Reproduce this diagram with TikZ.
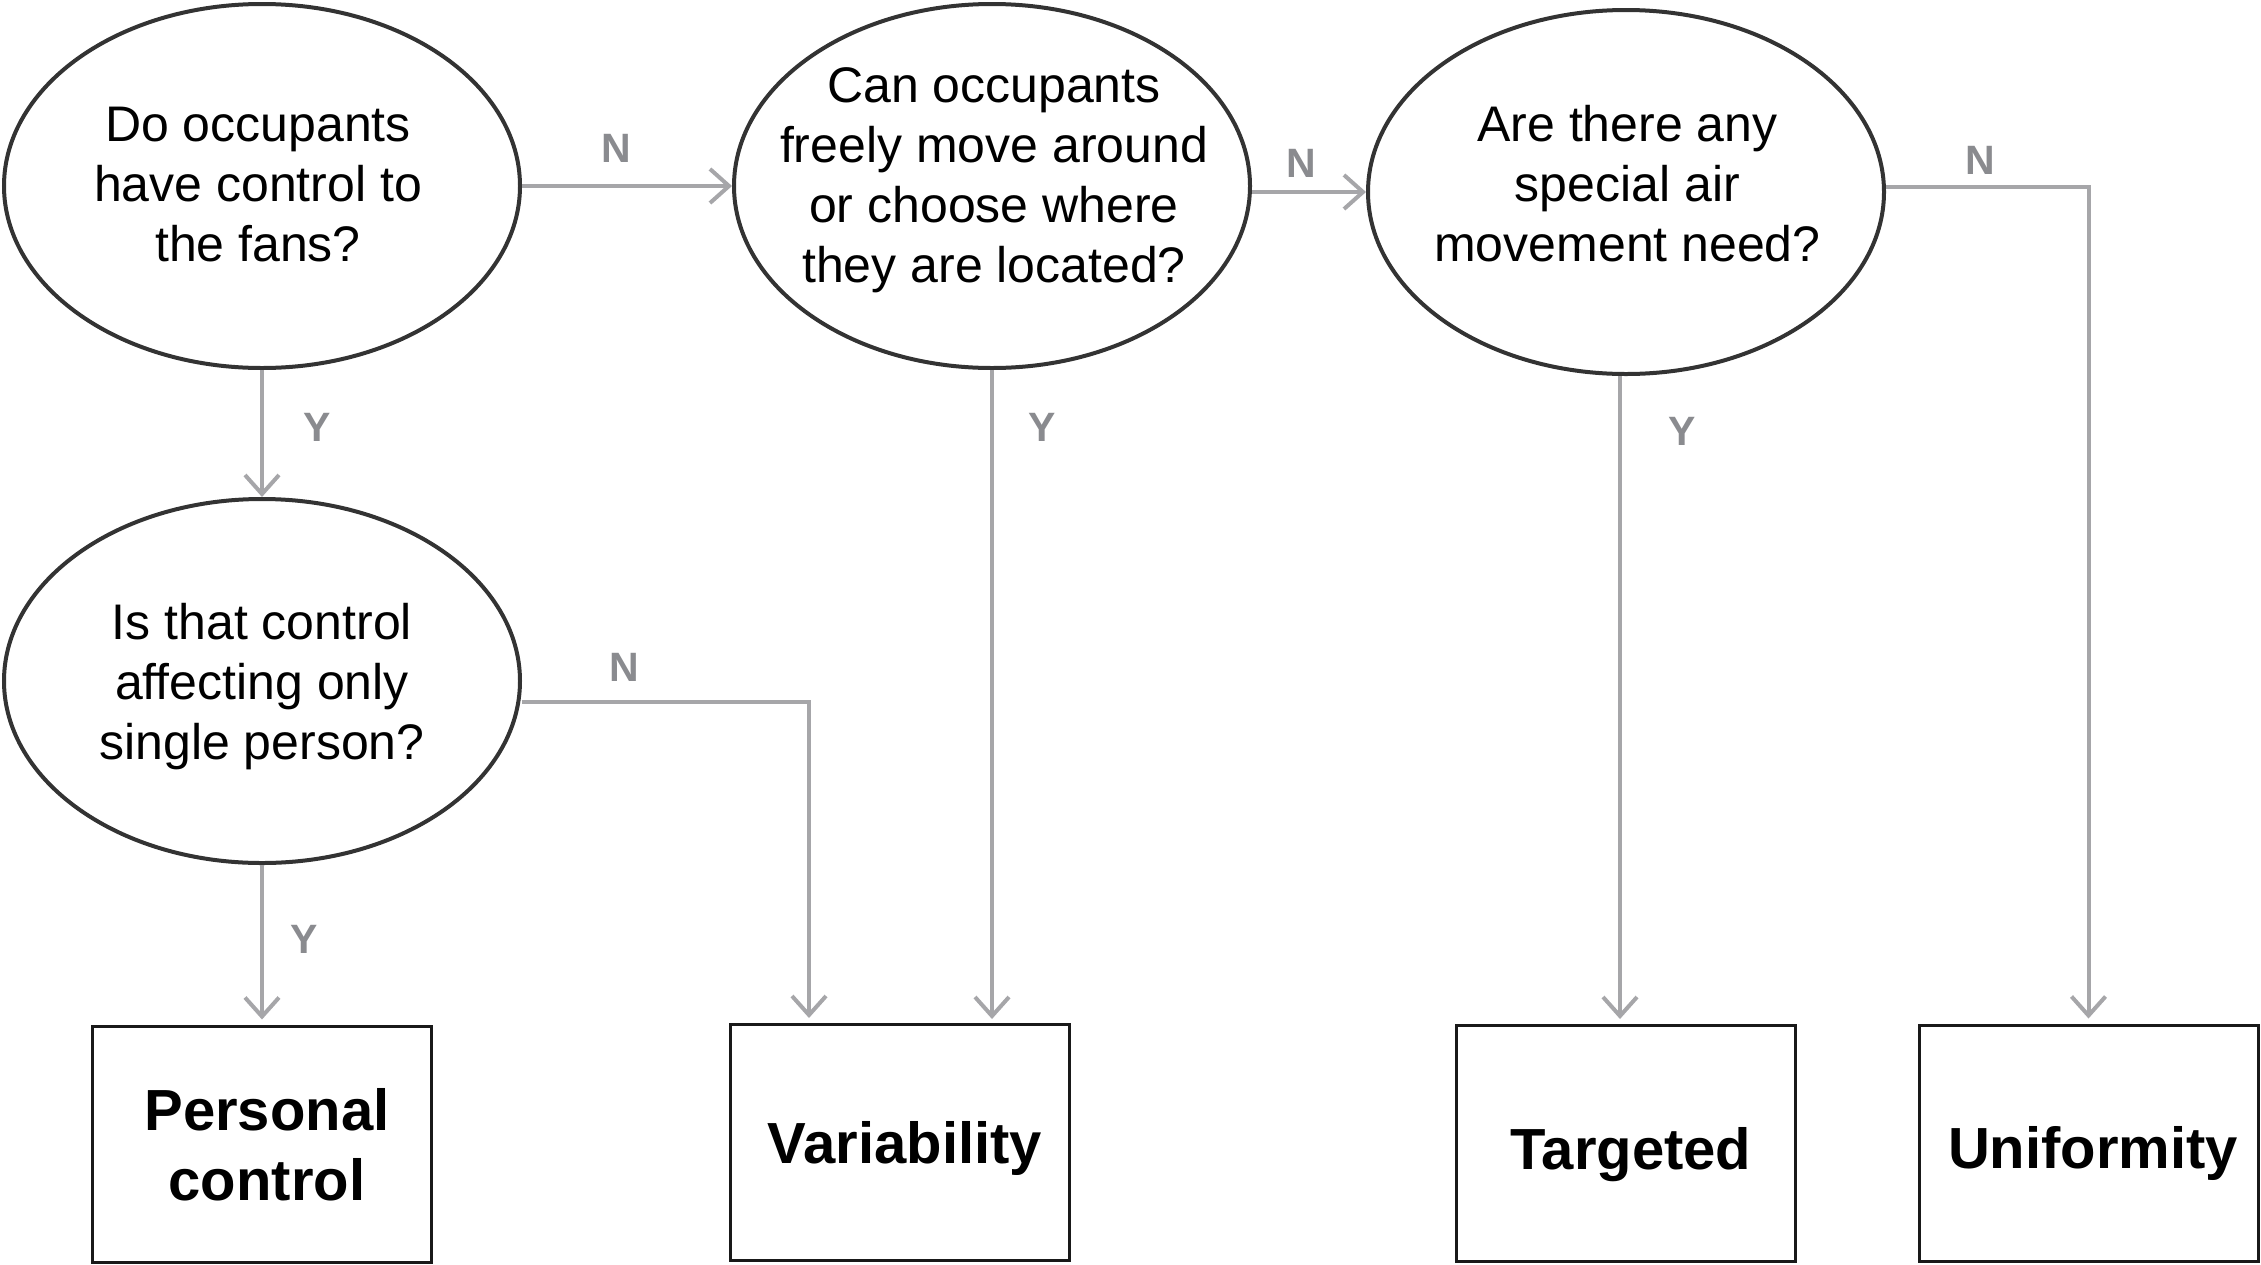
\documentclass[tikz,border=0pt]{standalone}
\usepackage{fontspec}
\setmainfont{Liberation Sans}
\usetikzlibrary{arrows.meta,shapes.geometric}
\definecolor{ringgray}{RGB}{51,51,51}
\definecolor{flowgray}{RGB}{166,166,169}
\definecolor{taggray}{RGB}{138,139,143}
\definecolor{boxline}{RGB}{25,25,25}

\begin{document}
\begin{tikzpicture}[x=1pt,y=-1pt,
  question/.style={ellipse, draw=ringgray, line width=4pt,
    minimum width=516pt, minimum height=364pt, inner sep=0pt},
  qtext/.style={align=center, inner sep=0pt,
    font=\fontsize{50}{60}\selectfont},
  outcome/.style={rectangle, draw=boxline, line width=3pt,
    minimum width=339pt, minimum height=236pt, inner sep=0pt},
  otext/.style={align=center, inner sep=0pt, text depth=0pt,
    font=\bfseries\fontsize{58}{70}\selectfont},
  flow/.style={draw=flowgray, line width=4pt,
    -{Straight Barb[length=19pt,width=34pt]}},
  tag/.style={text=taggray, inner sep=0pt,
    font=\bfseries\fontsize{41}{49}\selectfont}]

\useasboundingbox (0,0) rectangle (2261,1264);

% question ellipses
\node[question] (q1) at (262,186) {};
\node[question] (q2) at (992,186) {};
\node[question] (q3) at (1626,192) {};
\node[question] (q4) at (262,681) {};

\node[qtext] (q1t) at (258,185) {Do occupants\\have control to\\the fans?};
\node[qtext] (q2t) at (994,180.5) {Can occupants\\freely move around\\or choose where\\they are located?};
\node[qtext] (q3t) at (1627.5,184) {Are there any\\special air\\movement need?};
\node[qtext] (q4t) at (262,687) {Is that control\\affecting only\\single person?};

% outcome boxes
\node[outcome] (pc)  at (262,1144)    {};
\node[outcome] (var) at (900,1142.5)  {};
\node[outcome] (tgt) at (1626,1143.5) {};
\node[outcome] (uni) at (2088.5,1143) {};

\node[otext] (pct) at (267,1144) {Personal\\control};
\node[otext, anchor=base] (vart) at (905,1163) {Variability};
\node[otext, anchor=base] (tgtt) at (1631,1169) {Targeted};
\node[otext, anchor=base] (unit) at (2093,1168) {Uniformity};

% decision flows
\draw[flow] (q1.east) -- (q2.west);
\draw[flow] (q1.south) -- (q4.north);
\draw[flow] (q3.west -| q2.east) -- (q3.west);
\draw[flow, shorten >=4pt] (q2.south) -- (q2.south |- var.north);
\draw[flow, shorten >=5pt] (q4.south) -- (pc.north);
\draw[flow, shorten >=5pt] ([yshift=-21pt]q4.east) -| ([xshift=-91pt]var.north);
\draw[flow, shorten >=5pt] ([xshift=-6pt]q3.south) -- ([xshift=-6pt]tgt.north);
\draw[flow, shorten >=5pt] ([yshift=5pt]q3.east) -| (uni.north);

% branch labels
\node[tag] (n12) at (616,148)  {N};
\node[tag] (y14) at (317,427)  {Y};
\node[tag] (n23) at (1301,163) {N};
\node[tag] (y2v) at (1042,427) {Y};
\node[tag] (n3u) at (1980,160) {N};
\node[tag] (y3t) at (1682,431) {Y};
\node[tag] (n4v) at (624,667)  {N};
\node[tag] (y4p) at (304,939)  {Y};

\end{tikzpicture}
\end{document}
